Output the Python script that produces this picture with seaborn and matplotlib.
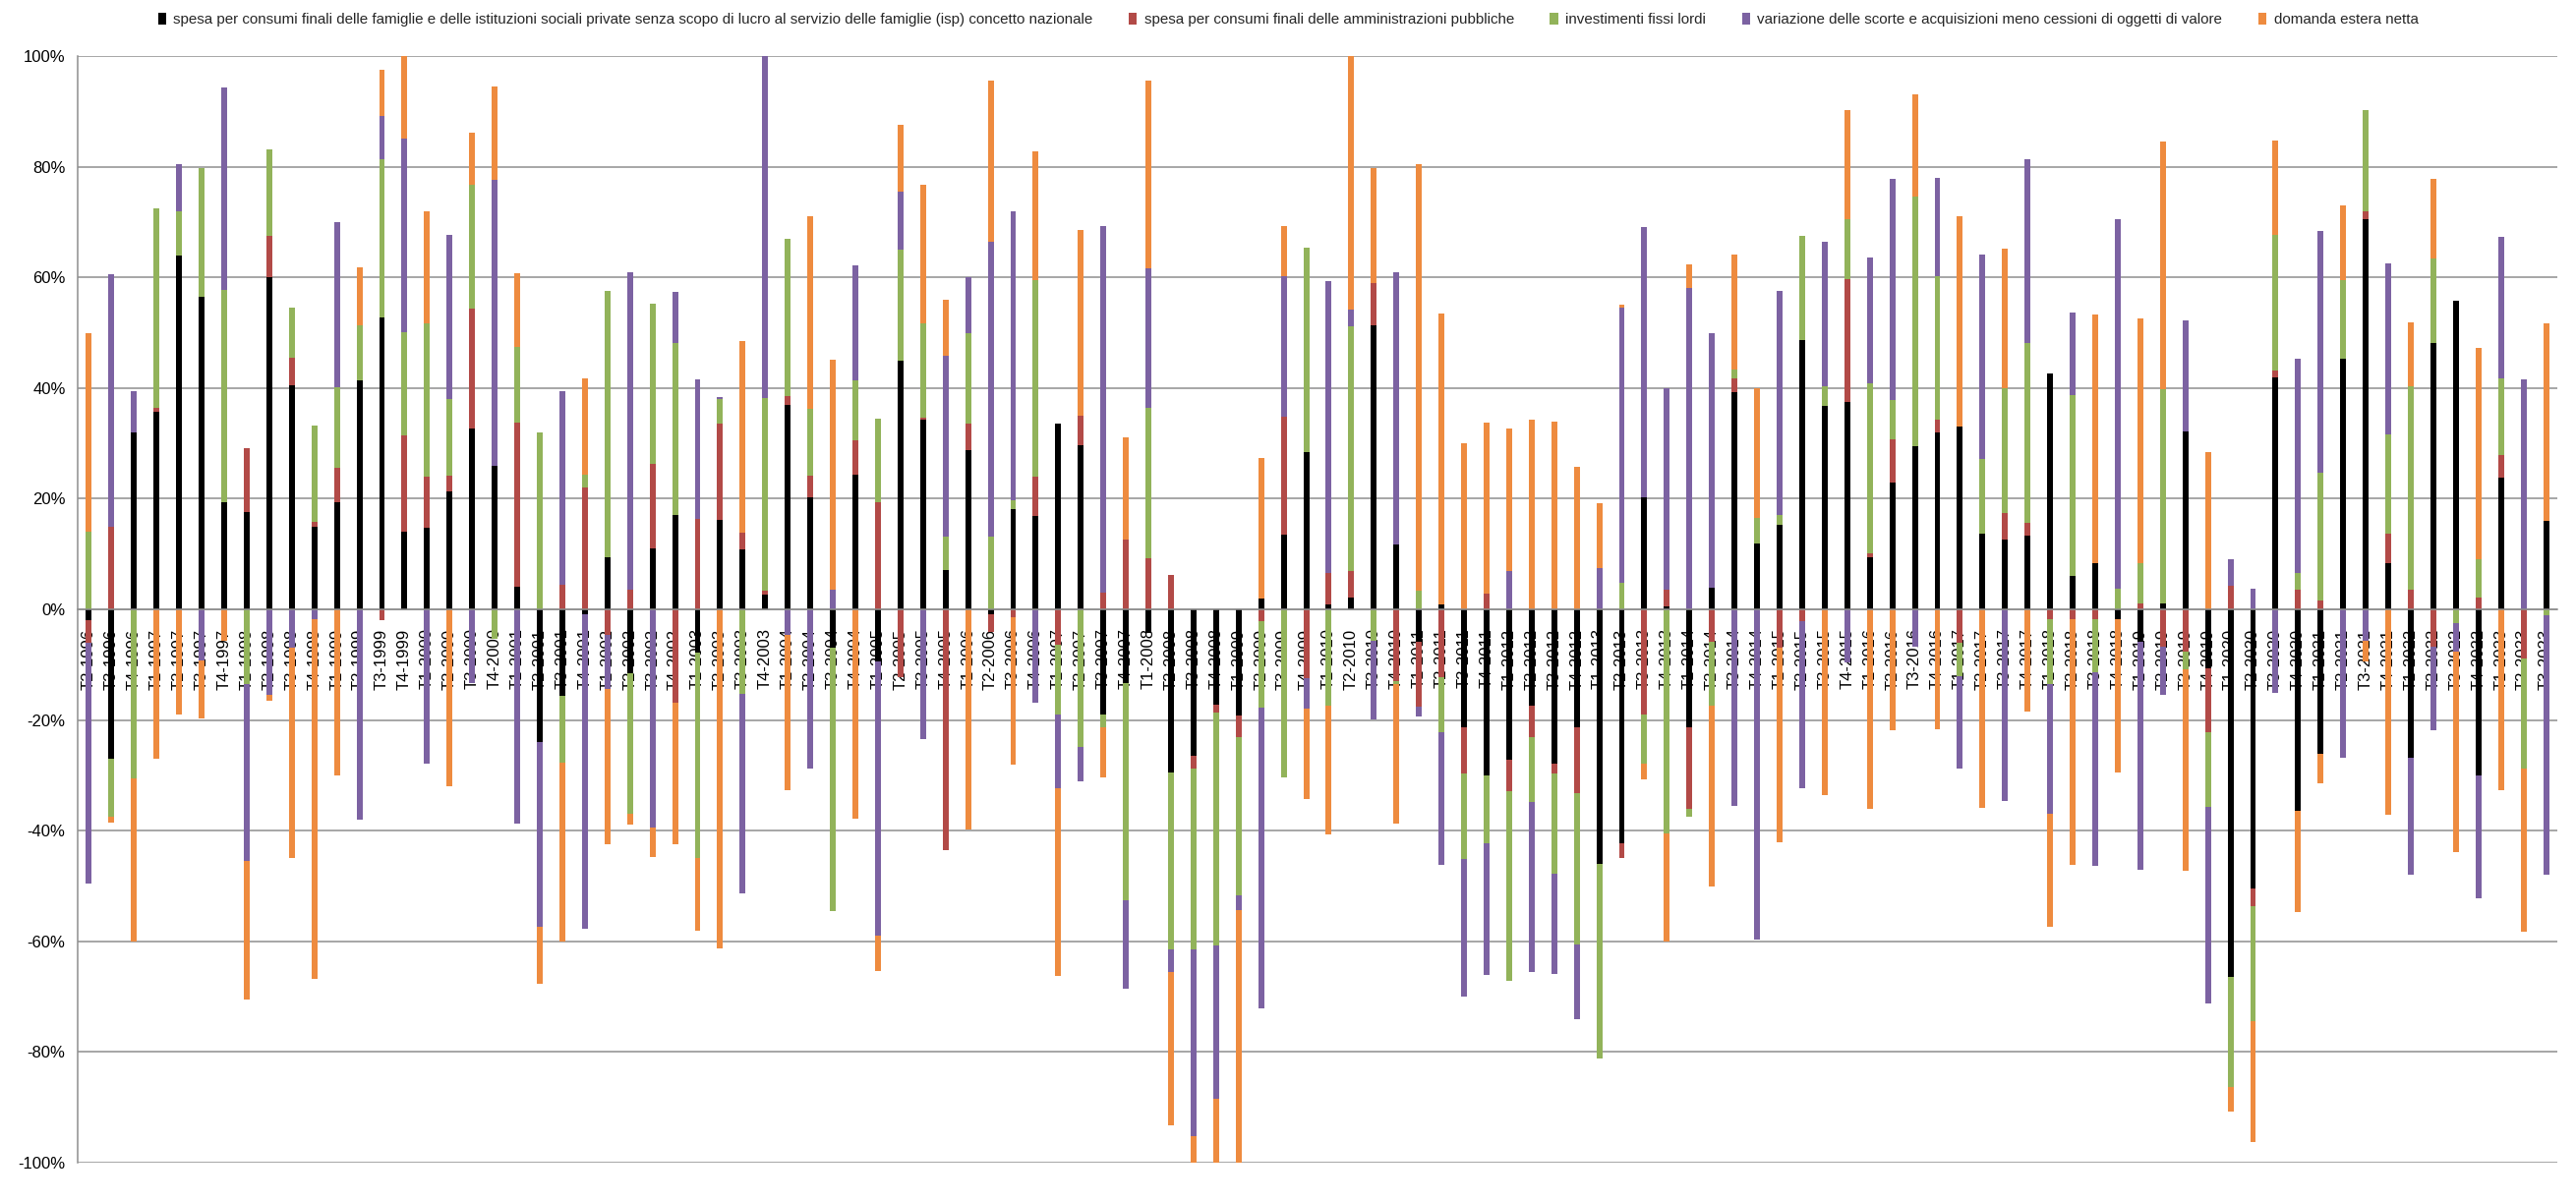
import numpy as np
import matplotlib
matplotlib.use("Agg")
import matplotlib.pyplot as plt
from matplotlib import font_manager
from matplotlib.patches import Patch
from matplotlib.ticker import FuncFormatter, FixedLocator
import seaborn as sns

quarters = [
    "T2-1996", "T3-1996", "T4-1996",
    "T1-1997", "T2-1997", "T3-1997", "T4-1997",
    "T1-1998", "T2-1998", "T3-1998", "T4-1998",
    "T1-1999", "T2-1999", "T3-1999", "T4-1999",
    "T1-2000", "T2-2000", "T3-2000", "T4-2000",
    "T1-2001", "T2-2001", "T3-2001", "T4-2001",
    "T1-2002", "T2-2002", "T3-2002", "T4-2002",
    "T1-2003", "T2-2003", "T3-2003", "T4-2003",
    "T1-2004", "T2-2004", "T3-2004", "T4-2004",
    "T1-2005", "T2-2005", "T3-2005", "T4-2005",
    "T1-2006", "T2-2006", "T3-2006", "T4-2006",
    "T1-2007", "T2-2007", "T3-2007", "T4-2007",
    "T1-2008", "T2-2008", "T3-2008", "T4-2008",
    "T1-2009", "T2-2009", "T3-2009", "T4-2009",
    "T1-2010", "T2-2010", "T3-2010", "T4-2010",
    "T1-2011", "T2-2011", "T3-2011", "T4-2011",
    "T1-2012", "T2-2012", "T3-2012", "T4-2012",
    "T1-2013", "T2-2013", "T3-2013", "T4-2013",
    "T1-2014", "T2-2014", "T3-2014", "T4-2014",
    "T1-2015", "T2-2015", "T3-2015", "T4-2015",
    "T1-2016", "T2-2016", "T3-2016", "T4-2016",
    "T1-2017", "T2-2017", "T3-2017", "T4-2017",
    "T1-2018", "T2-2018", "T3-2018", "T4-2018",
    "T1-2019", "T2-2019", "T3-2019", "T4-2019",
    "T1-2020", "T2-2020", "T3-2020", "T4-2020",
    "T1-2021", "T2-2021", "T3-2021", "T4-2021",
    "T1-2022", "T2-2022", "T3-2022", "T4-2022",
    "T1-2023", "T2-2023", "T3-2023",
]

# contributions (%), one value per quarter
consumi_famiglie = [
    -2, -27, 32,
    35.7, 64, 56.5, 19.4,
    17.5, 60, 40.5, 15,
    19.4, 41.3, 52.7, 14,
    14.8, 21.3, 32.7, 26,
    4, -24, -15.7, -0.8,
    9.4, -11.6, 11, 17.1,
    -7.9, 16.1, 10.9, 2.6,
    36.9, 20.3, -6.9, 24.3,
    -9.4, 44.9, 34.2, 7.1,
    28.7, -0.8, 18.1, 16.9,
    33.6, 29.7, -19, -13.4,
    -4.3, -29.4, -26.4, -17.3,
    -19.2, 1.9, 13.5, 28.4,
    0.8, 2.1, 51.4, 11.8,
    -5.8, 0.9, -21.3, -30.1,
    -27.1, -17.4, -27.8, -21.3,
    -46, -42.3, 20.3, 0.5,
    -21.3, 3.9, 39.2, 11.9,
    15.3, 48.7, 36.8, 37.5,
    9.4, 22.9, 29.5, 31.9,
    33, 13.6, 12.6, 13.4,
    42.7, 6.1, 8.4, -1.7,
    -5.8, 1, 32.2, -10.6,
    -66.5, -50.4, 41.9, -36.4,
    -26.1, 45.3, 70.6, 8.4,
    -26.8, 48.1, 55.8, -30,
    23.8, 0, 16,
]
consumi_pa = [
    -4, 15, 0,
    0.8, 0, 0, 0,
    11.6, 7.5, 5, 0.8,
    6.1, 0, -2, 17.5,
    9.1, 2.9, 21.7, 0,
    29.7, 0, 4.4, 22,
    -4.7, 3.5, 15.2, -16.8,
    16.4, 17.5, 2.9, 0.8,
    1.7, 3.9, 0, 6.2,
    19.4, -12.2, 0.5, -43.6,
    4.8, -3.2, -1.4, 7,
    -6.4, 5.3, 3.1, 12.6,
    9.2, 6.2, -2.3, -1.3,
    -3.9, -2.1, 21.4, -12.5,
    5.8, 4.9, 7.5, -13,
    -11.8, -12.2, -8.4, 2.9,
    -5.8, -5.7, -1.8, -11.9,
    0, -2.6, -19, 3,
    -14.8, -5.8, 2.6, 0,
    -7, -2.1, 0, 22.1,
    0.8, 7.8, 0, 2.3,
    -6, 0, 4.8, 2.2,
    -1.8, -1.7, -1.7, 0,
    1, -6.8, -7.7, -11.6,
    4.2, -3.2, 1.2, 3.6,
    1.6, 0, 1.4, 5.3,
    3.5, -6.8, 0, 2.2,
    4, -8.8, 0,
]
investimenti = [
    14, -10.5, -30.5,
    36, 8, 23.3, 38.4,
    -13.5, 15.7, 9, 17.4,
    14.7, 10, 28.6, 18.6,
    27.7, 13.8, 22.3, -5.3,
    13.8, 32, -12, 2.3,
    48.2, -25.3, 29.1, 31,
    -37, 4.4, -15.2, 34.8,
    28.4, 12.1, -47.7, 10.8,
    15.1, 20.1, 17, 6.1,
    16.4, 13.2, 1.6, 35.6,
    -12.6, -24.9, -2.3, -39.1,
    27.3, -32.1, -32.7, -42.1,
    -28.6, -15.6, -30.4, 37,
    -17.4, 44.2, -5.6, -0.5,
    3.4, -10, -15.5, -12.2,
    -34.2, -11.8, -18.2, -27.4,
    -35.1, 4.8, -8.8, -40.5,
    -1.3, -11.6, 1.6, 4.7,
    1.8, 18.8, 3.6, 11,
    30.6, 7.1, 45.1, 26,
    -6.1, 13.5, 22.5, 32.6,
    -11.7, 32.6, -9.7, 3.8,
    7.3, 38.7, -3.2, -13.5,
    -19.9, -20.9, 24.5, 3,
    23.1, 14.2, 18.2, 17.9,
    36.9, 15.3, -2.5, 6.8,
    13.9, -19.9, -1,
]
scorte = [
    -43.5, 45.5, 7.5,
    0, 8.5, -9.2, 36.5,
    -32, -15.5, -7, -1.7,
    29.7, -38, 7.8, 35,
    -27.8, 29.6, -13.4, 51.6,
    -38.8, -33.4, 35, -57,
    -9.7, 57.5, -39.5, 9.2,
    25.2, 0.4, -36.2, 64,
    -4.7, -28.7, 3.5, 20.9,
    -49.6, 10.4, -23.5, 32.7,
    10.1, 53.2, 52.2, -16.9,
    -13.4, -6.2, 66.1, -16.1,
    25.1, -4, -33.8, -27.8,
    -2.7, -54.5, 25.3, -5.5,
    52.7, 3, -14.3, 49.2,
    -1.7, -24, -24.7, -23.8,
    7, -30.6, -18.1, -13.5,
    7.5, 49.7, 48.8, 36.5,
    58, 46.1, -35.6, -59.6,
    40.4, -30.3, 26, -9.6,
    22.7, 40, -6.8, 17.8,
    -16.6, 37, -34.7, 33.1,
    -23.4, 14.9, -34.9, 66.8,
    -41.3, -8.6, 20.1, -35.5,
    4.9, 3.8, -15.1, 38.7,
    43.6, -26.8, -5.6, 31,
    -21.2, -15.1, -5.2, -22.3,
    25.6, 41.6, -47,
]
domanda_estera = [
    36, -1, -29.5,
    -27, -19, -10.6, -5.6,
    -25, -1, -38, -65,
    -30, 10.5, 8.4, 20,
    20.3, -32, 9.5, 16.9,
    13.2, -10.3, -32.3, 17.5,
    -28, -2, -5.2, -25.6,
    -13.2, -61.3, 34.7, 0,
    -27.9, 34.8, 41.7, -37.8,
    -6.4, 12.1, 25, 10.1,
    -39.7, 29.2, -26.6, 23.2,
    -33.8, 33.5, -9.1, 18.4,
    34, -27.8, -10, -15,
    -50, 25.5, 9, -16.2,
    -23.2, 48, 20.8, -25.2,
    77.1, 52.5, 30, 30.9,
    25.6, 34.2, 33.9, 25.7,
    11.6, 0.6, -2.9, -19.5,
    4.3, -32.6, 20.8, 23.4,
    -35.1, 0, -33.5, 19.6,
    -36.1, -21.8, 18.4, -21.6,
    38, -35.8, 25.2, -18.4,
    -20.5, -44.4, 44.9, -27.7,
    44.3, 44.8, -36.4, 28.4,
    -4.3, -21.7, 17.1, -18.3,
    -5.3, 13.5, -3.9, -37.1,
    11.4, 14.4, -36.1, 38.3,
    -32.6, -29.6, 35.6,
]

series_names = [
    "spesa per consumi finali delle famiglie e delle istituzioni sociali private senza scopo di lucro al servizio delle famiglie (isp) concetto nazionale",
    "spesa per consumi finali delle amministrazioni pubbliche",
    "investimenti fissi lordi",
    "variazione delle scorte e acquisizioni meno cessioni di oggetti di valore",
    "domanda estera netta",
]
series_values = [consumi_famiglie, consumi_pa, investimenti, scorte, domanda_estera]
series_colors = ["#000000", "#B24A47", "#92B35A", "#7C62A2", "#EE8B3F"]

sns.set_style("white")
available = {f.name for f in font_manager.fontManager.ttflist}
base_font = "Liberation Sans Narrow" if "Liberation Sans Narrow" in available else "Liberation Sans"
plt.rcParams["font.family"] = [base_font, "DejaVu Sans"]

W, H = 2620, 1222
fig = plt.figure(figsize=(W / 100, H / 100), dpi=100)
left_px, right_px, top_px, bottom_px = 79, 2601, 57, 1183
ax = fig.add_axes([left_px / W, 1 - bottom_px / H,
                   (right_px - left_px) / W, (bottom_px - top_px) / H])

pos_base = np.zeros(len(quarters))
neg_base = np.zeros(len(quarters))
for vals, col in zip(series_values, series_colors):
    v = np.asarray(vals, dtype=float)
    pos = np.where(v > 0, v, 0.0)
    neg = np.where(v < 0, v, 0.0)
    sns.barplot(x=quarters, y=pos, bottom=pos_base, color=col, saturation=1,
                width=0.26, errorbar=None, linewidth=0, ax=ax, zorder=2)
    sns.barplot(x=quarters, y=neg, bottom=neg_base, color=col, saturation=1,
                width=0.26, errorbar=None, linewidth=0, ax=ax, zorder=2)
    pos_base = pos_base + pos
    neg_base = neg_base + neg

ax.set_xlim(-0.5, len(quarters) - 0.5)
ax.set_ylim(-100, 100)
ax.set_xlabel("")
ax.set_ylabel("")

grid_col = "#8E8E8E"
ax.set_yticks(np.arange(-100, 101, 20))
ax.yaxis.set_major_formatter(FuncFormatter(lambda v, p: f"{v:.0f}%"))
ax.yaxis.grid(True, color=grid_col, linewidth=1.1, zorder=0)
ax.set_axisbelow(True)
ax.tick_params(axis="y", length=5, color=grid_col, labelsize=12, pad=4,
               labelcolor="#000000")

for s in ["top", "right"]:
    ax.spines[s].set_visible(False)
ax.spines["left"].set_color(grid_col)
ax.spines["left"].set_linewidth(1.1)
ax.spines["bottom"].set_position(("data", 0))
ax.spines["bottom"].set_color(grid_col)
ax.spines["bottom"].set_linewidth(1.1)
ax.spines["bottom"].set_zorder(3)

ax.set_xticks(range(len(quarters)))
ax.set_xticklabels(quarters, rotation=90)
ax.tick_params(axis="x", which="major", length=0, pad=14, labelsize=12,
               labelcolor="#000000")
ax.xaxis.set_minor_locator(FixedLocator(np.arange(-0.5, len(quarters), 1.0)))
ax.tick_params(axis="x", which="minor", length=6, color=grid_col,
               direction="out", width=1)
for lbl in ax.get_xticklabels():
    lbl.set_zorder(5)

handles = [Patch(facecolor=c, edgecolor="none") for c in series_colors]
fig.legend(handles, series_names, loc="center", bbox_to_anchor=(0.5, 1 - 20 / H),
           ncol=5, frameon=False, fontsize=10.9, handlelength=0.55,
           handleheight=0.9, handletextpad=0.5, columnspacing=2.4)

fig.savefig("out.png", dpi=100, facecolor="white")
